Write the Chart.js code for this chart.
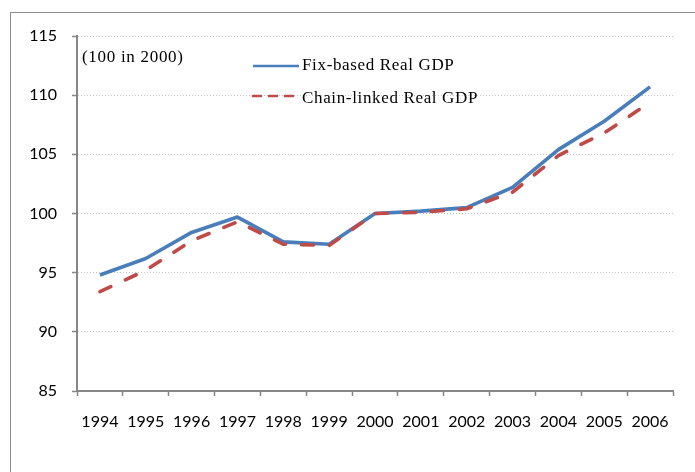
<!DOCTYPE html>
<html>
<head>
<meta charset="utf-8">
<script src="https://cdn.jsdelivr.net/npm/chart.js@4/dist/chart.umd.min.js"></script>
<style>
  html, body { margin: 0; padding: 0; background: #fff; overflow: hidden; }
  #frame { position: absolute; left: 10px; top: 12px; width: 800px; height: 600px; border: 1.5px solid #8c8c8c; }
  #gdpChart { position: absolute; left: 0; top: 0; }
</style>
</head>
<body>
<div id="frame"></div>
<canvas id="gdpChart" width="695" height="472"></canvas>
<script>
// data
const years = ['1994','1995','1996','1997','1998','1999','2000','2001','2002','2003','2004','2005','2006'];
const fixBased = [94.8, 96.2, 98.4, 99.7, 97.6, 97.4, 100.0, 100.2, 100.5, 102.2, 105.4, 107.8, 110.7];
const chainLinked = [93.4, 95.2, 97.7, 99.3, 97.4, 97.3, 100.0, 100.1, 100.4, 101.8, 104.9, 106.8, 109.4];
const yTicks = [85, 90, 95, 100, 105, 110, 115];

const BLUE = '#4a7ebb';
const RED = '#be4b48';
const AXIS = '#868686';
const tickFont = { family: 'Lato', size: 16 };

// legend + note drawn by hand, Excel style
const overlay = {
    id: 'overlay',
    afterDatasetsDraw(chart) {
        const ctx = chart.ctx;
        ctx.save();
        ctx.fillStyle = '#000';
        ctx.font = '17px "Liberation Serif"';
        ctx.textBaseline = 'alphabetic';
        ctx.textAlign = 'left';
        ctx.letterSpacing = '0.7px';
        ctx.fillText('(100 in 2000)', 82, 62);

        const items = [
            { label: chart.data.datasets[0].label, color: BLUE, dash: [], y: 66, base: 70 },
            { label: chart.data.datasets[1].label, color: RED, dash: [8, 8], y: 96, base: 103 }
        ];
        items.forEach(it => {
            ctx.beginPath();
            ctx.strokeStyle = it.color;
            ctx.lineWidth = 2.7;
            ctx.lineCap = it.dash.length ? 'round' : 'butt';
            ctx.setLineDash(it.dash);
            ctx.moveTo(253, it.y);
            ctx.lineTo(299, it.y);
            ctx.stroke();
            ctx.setLineDash([]);
            ctx.letterSpacing = '0.65px';
            ctx.fillText(it.label, 302, it.base);
        });
        ctx.restore();
    }
};

const ctx = document.getElementById('gdpChart').getContext('2d');
new Chart(ctx, {
    type: 'line',
    data: {
        labels: years,
        datasets: [
            { label: 'Fix-based Real GDP', data: fixBased, borderColor: BLUE, borderWidth: 3.6,
              pointRadius: 0, tension: 0, order: 2, borderJoinStyle: 'round' },
            { label: 'Chain-linked Real GDP', data: chainLinked, borderColor: RED, borderWidth: 3.6,
              borderDash: [12, 16], borderCapStyle: 'round', pointRadius: 0, tension: 0, order: 1 }
        ]
    },
    options: {
        responsive: false,
        animation: false,
        layout: { padding: { top: 36, right: 22, left: 0, bottom: 0 } },
        plugins: { legend: { display: false }, tooltip: { enabled: false } },
        scales: {
            x: {
                offset: true,
                grid: { offset: true, drawOnChartArea: false, drawTicks: true, tickLength: 5, tickColor: AXIS, tickWidth: 1.5 },
                border: { color: AXIS, width: 2 },
                ticks: { font: tickFont, color: '#000', padding: 16, maxRotation: 0, autoSkip: false },
                afterFit: s => { s.height = 81; }
            },
            y: {
                min: 85,
                max: 115,
                afterBuildTicks: s => { s.ticks = yTicks.map(v => ({ value: v })); },
                grid: { color: '#c4c4c4', lineWidth: 1, drawTicks: true, tickLength: 5, tickColor: AXIS, tickWidth: 1.5 },
                border: { color: AXIS, width: 2, dash: [1, 2] },
                ticks: { font: tickFont, color: '#000', padding: 15 },
                afterFit: s => { s.width = 77; }
            }
        }
    },
    plugins: [overlay]
});
</script>
</body>
</html>
